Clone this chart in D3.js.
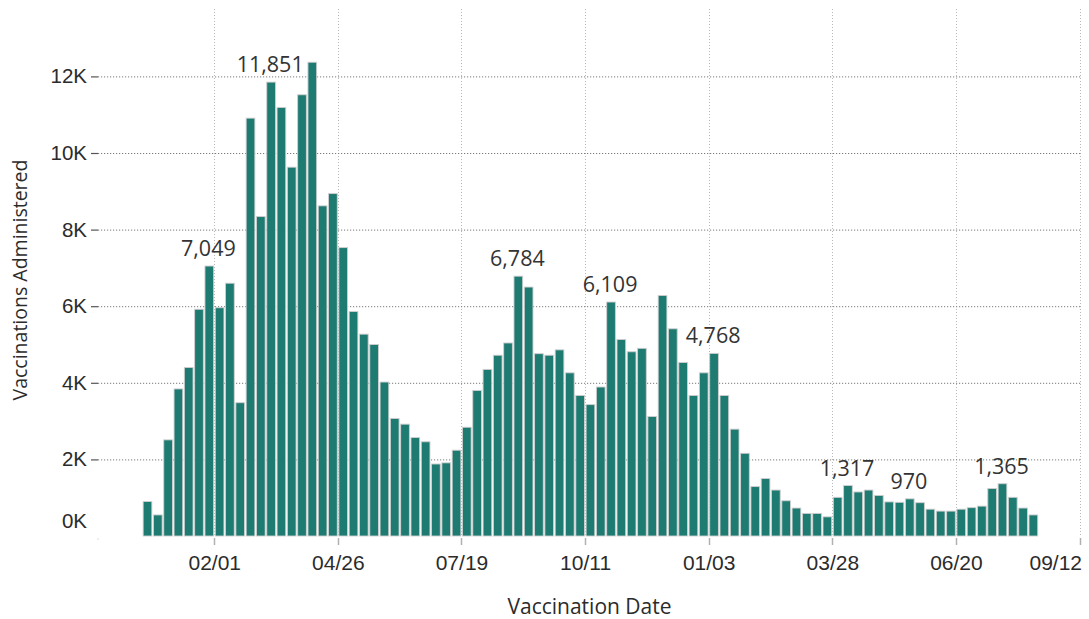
<!DOCTYPE html>
<html>
<head>
<meta charset="utf-8">
<script src="https://cdn.jsdelivr.net/npm/d3@7"></script>
<style>
  body { margin: 0; background: #ffffff; }
  svg { display: block; font-family: "Segoe UI", "Open Sans", sans-serif; }
</style>
</head>
<body>
<div id="chart"></div>
<script>
// weekly vaccinations, one bar per week (week start date)
var weeks = [
  "2020-12-14","2020-12-21","2020-12-28",
  "2021-01-04","2021-01-11","2021-01-18","2021-01-25","2021-02-01","2021-02-08","2021-02-15","2021-02-22",
  "2021-03-01","2021-03-08","2021-03-15","2021-03-22","2021-03-29","2021-04-05","2021-04-12","2021-04-19",
  "2021-04-26","2021-05-03","2021-05-10","2021-05-17","2021-05-24","2021-05-31","2021-06-07","2021-06-14",
  "2021-06-21","2021-06-28","2021-07-05","2021-07-12","2021-07-19","2021-07-26","2021-08-02","2021-08-09",
  "2021-08-16","2021-08-23","2021-08-30","2021-09-06","2021-09-13","2021-09-20","2021-09-27","2021-10-04",
  "2021-10-11","2021-10-18","2021-10-25","2021-11-01","2021-11-08","2021-11-15","2021-11-22","2021-11-29",
  "2021-12-06","2021-12-13","2021-12-20","2021-12-27",
  "2022-01-03","2022-01-10","2022-01-17","2022-01-24","2022-01-31","2022-02-07","2022-02-14","2022-02-21",
  "2022-02-28","2022-03-07","2022-03-14","2022-03-21","2022-03-28","2022-04-04","2022-04-11","2022-04-18",
  "2022-04-25","2022-05-02","2022-05-09","2022-05-16","2022-05-23","2022-05-30","2022-06-06","2022-06-13",
  "2022-06-20","2022-06-27","2022-07-04","2022-07-11","2022-07-18","2022-07-25","2022-08-01","2022-08-08"
];

var vaccinations = [
  900, 550, 2510,
  3840, 4400, 5920, 7049, 5960, 6600, 3480, 10910,
  8340, 11851, 11190, 9630, 11520, 12370, 8620, 8940,
  7530, 5860, 5270, 5000, 4020, 3070, 2920, 2570,
  2460, 1880, 1910, 2240, 2840, 3800, 4350, 4720,
  5040, 6784, 6500, 4760, 4720, 4860, 4260, 3670,
  3430, 3890, 6109, 5130, 4810, 4900, 3120, 6280,
  5410, 4530, 3670, 4260,
  4768, 3670, 2790, 2160, 1290, 1500, 1200, 920,
  730, 590, 590, 500, 1010, 1317, 1150, 1200,
  1060, 890, 880, 970, 870, 700, 650, 650,
  700, 740, 780, 1240, 1365, 1010, 730, 550
];

// weeks that carry a data label
var labelWeeks = ["2021-01-25", "2021-03-08", "2021-08-23", "2021-10-25", "2022-01-03", "2022-04-04", "2022-05-16", "2022-07-18"];

var xTicks = ["2021-02-01","2021-04-26","2021-07-19","2021-10-11","2022-01-03","2022-03-28","2022-06-20","2022-09-12"];
var yTicks = [0, 2000, 4000, 6000, 8000, 10000, 12000];
var xDomain = ["2020-11-14", "2022-09-13"];

var par = {
  w: 1089, h: 619,
  left: 98, right: 1081, top: 9, base: 536,
  y12: 76.4,
  bar_color: "#1d7b72",
  bar_stroke: "#cfcfcf",
  text_color: "#2b2b2b"
};

var parse = d3.utcParse("%Y-%m-%d");
var data = weeks.map(function(d, i) {
  return {date: parse(d), value: vaccinations[i], label: labelWeeks.indexOf(d) >= 0};
});

var svg = d3.select("#chart").append("svg")
  .attr("width", par.w)
  .attr("height", par.h);

var x = d3.scaleUtc()
  .domain(xDomain.map(parse))
  .range([par.left, par.right]);

var y = d3.scaleLinear()
  .domain([0, 12000])
  .range([par.base, par.y12]);

// vertical dotted gridlines + little ticks under the baseline
var xt = xTicks.map(parse);
svg.append("g").selectAll("line")
  .data(xt).enter().append("line")
  .attr("x1", function(d) { return Math.round(x(d)) + 0.5; })
  .attr("x2", function(d) { return Math.round(x(d)) + 0.5; })
  .attr("y1", par.top)
  .attr("y2", par.base)
  .style("stroke", "#b8b8b8")
  .style("stroke-width", 1)
  .style("stroke-dasharray", "1,2");

svg.append("g").selectAll("line")
  .data(xt).enter().append("line")
  .attr("x1", function(d) { return Math.round(x(d)) + 0.5; })
  .attr("x2", function(d) { return Math.round(x(d)) + 0.5; })
  .attr("y1", par.base + 2)
  .attr("y2", par.base + 9)
  .style("stroke", "#b0b0b0")
  .style("stroke-width", 1.5);

// y axis with dotted horizontal gridlines
var yAxis = d3.axisLeft(y)
  .tickValues(yTicks)
  .tickFormat(function(d) { return (d / 1000) + "K"; })
  .tickSize(-(par.right - par.left))
  .tickPadding(11);

var gy = svg.append("g")
  .attr("transform", "translate(" + par.left + ",0)")
  .call(yAxis);
gy.select(".domain").remove();
gy.selectAll(".tick line")
  .style("stroke", "#7a7a7a")
  .style("stroke-dasharray", "1.2,1.8");
gy.selectAll(".tick text")
  .attr("fill", par.text_color)
  .style("font-size", "20.5px");
gy.selectAll(".tick").filter(function(d) { return d === 0; })
  .each(function() {
    d3.select(this).select("line").remove();
    d3.select(this).select("text").attr("dy", "-0.42em");
  });
// short solid dash at the left of each gridline
gy.selectAll(".tick").filter(function(d) { return d > 0; })
  .append("line")
  .attr("x1", -7).attr("x2", 0)
  .style("stroke", "#555")
  .style("stroke-width", 1.2);

// small corner dot
svg.append("rect")
  .attr("x", par.left - 0.5).attr("y", par.base + 2.5)
  .attr("width", 1).attr("height", 1)
  .style("fill", "#bbb");

// bars
svg.append("g").selectAll("rect")
  .data(data).enter().append("rect")
  .attr("x", function(d) { return x(d.date) + 1; })
  .attr("y", function(d) { return y(d.value); })
  .attr("width", function(d) { return x(d3.utcDay.offset(d.date, 7)) - x(d.date) - 1.6; })
  .attr("height", function(d) { return par.base - y(d.value); })
  .style("fill", par.bar_color)
  .style("stroke", par.bar_stroke)
  .style("stroke-width", 0.9);

// data labels
var fmt = d3.format(",");
svg.append("g").selectAll("text")
  .data(data.filter(function(d) { return d.label; })).enter().append("text")
  .attr("x", function(d) { return x(d3.utcDay.offset(d.date, 3.5)); })
  .attr("y", function(d) { return y(d.value) - 10; })
  .attr("text-anchor", "middle")
  .attr("fill", "#333")
  .style("font-size", "21.5px")
  .text(function(d) { return fmt(d.value); });

// x axis labels
var xAxis = d3.axisBottom(x)
  .tickValues(xt)
  .tickFormat(d3.utcFormat("%m/%d"))
  .tickSize(0)
  .tickPadding(0);

var gx = svg.append("g")
  .attr("transform", "translate(0," + (par.base + 15) + ")")
  .call(xAxis);
gx.select(".domain").remove();
gx.selectAll(".tick text")
  .attr("fill", par.text_color)
  .style("font-size", "21px")
  .attr("dy", "0.9em");
// last label is pulled inside the plot
gx.selectAll(".tick text").filter(function(d, i) { return i === xt.length - 1; })
  .attr("text-anchor", "end")
  .attr("x", 2);

// axis titles
svg.append("text")
  .attr("x", (par.left + par.right) / 2)
  .attr("y", 614)
  .attr("text-anchor", "middle")
  .attr("fill", par.text_color)
  .style("font-size", "21px")
  .text("Vaccination Date");

svg.append("text")
  .attr("transform", "translate(27," + 280 + ") rotate(-90)")
  .attr("text-anchor", "middle")
  .attr("fill", par.text_color)
  .style("font-size", "19.5px")
  .text("Vaccinations Administered");
</script>
</body>
</html>
